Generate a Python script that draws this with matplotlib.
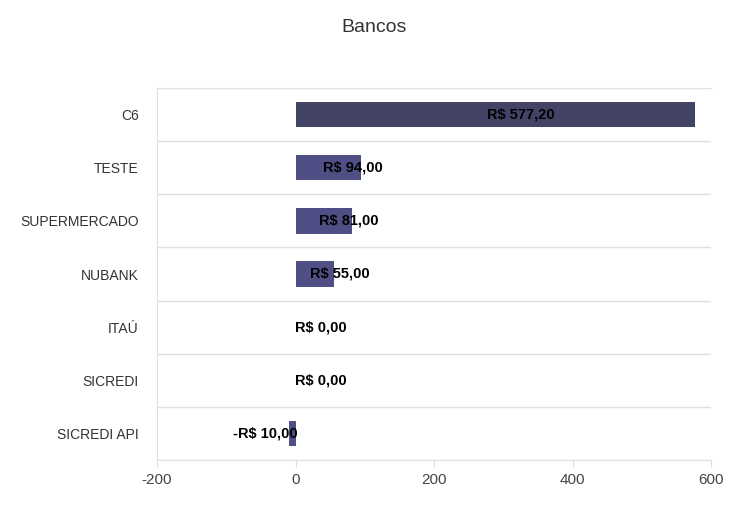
import numpy as np
import matplotlib
matplotlib.use("Agg")
import matplotlib.pyplot as plt

bancos = ["C6", "TESTE", "SUPERMERCADO", "NUBANK", "ITAÚ", "SICREDI", "SICREDI API"]
saldos = [577.20, 94.00, 81.00, 55.00, 0.00, 0.00, -10.00]
cores = ["#434366", "#4f4f85", "#4f4f85", "#4f4f85", "#4f4f85", "#4f4f85", "#4f4f85"]
xticks = [-200, 0, 200, 400, 600]

def brl(v):
    s = f"{abs(v):,.2f}".replace(",", "X").replace(".", ",").replace("X", ".")
    return ("-R$ " if v < 0 else "R$ ") + s

plt.rcParams['font.family'] = ['Liberation Sans', 'DejaVu Sans']

fig = plt.figure(figsize=(7.48, 5.07), dpi=100)
ax = fig.add_axes([157/748, 1 - 460/507, (711 - 157)/748, (460 - 88)/507])

y = np.arange(len(bancos))
ax.barh(y, saldos, height=0.48, color=cores, zorder=3)

# value labels, placed around the bar middle
for yi, v in zip(y, saldos):
    mid = v / 2
    if v >= 0:
        ax.annotate(brl(v), (mid, yi), xytext=(18, 0), textcoords='offset points',
                    ha='center', va='center', fontsize=10.5, fontweight='bold',
                    color='black', zorder=4)
    else:
        ax.annotate(brl(v), (mid, yi), xytext=(4, 0), textcoords='offset points',
                    ha='right', va='center', fontsize=10.5, fontweight='bold',
                    color='black', zorder=4)

ax.set_xlim(-200, 600)
ax.set_ylim(len(bancos) - 0.5, -0.5)
ax.set_xticks(xticks)
ax.set_xticklabels([str(t) for t in xticks])
ax.set_yticks(y)
ax.set_yticklabels(bancos)
ax.set_yticks(np.arange(-0.5, len(bancos), 1), minor=True)
ax.grid(True, axis='y', which='minor', color='#e0e0e0', lw=1)
ax.grid(False, axis='y', which='major')

ax.tick_params(axis='y', which='both', length=0, pad=13, labelsize=10, labelcolor='#333333')
ax.tick_params(axis='x', length=5, color='#dddddd', labelsize=11, labelcolor='#444444', pad=4)

ax.spines['right'].set_visible(False)
for s in ['left', 'bottom', 'top']:
    ax.spines[s].set_color('#e0e0e0')

fig.text(0.5, 1 - 27/507, "Bancos", ha='center', va='center', fontsize=14, color='#333333')

fig.savefig("out.png", dpi=100)
